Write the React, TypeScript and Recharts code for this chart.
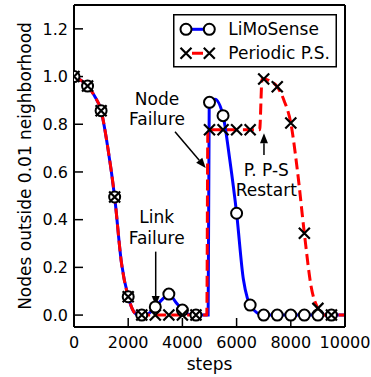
import React from "react"
import {
  ComposedChart,
  Line,
  XAxis,
  YAxis,
  Legend,
  ReferenceLine,
  ReferenceDot,
} from "recharts"

// continuous curves (step, fraction of nodes)
const limoSteps = [0, 250, 500, 750, 1000, 1250, 1500, 1750, 2000, 2200, 2400, 2650, 3000, 3250, 3500, 3750, 4000, 4250, 4500, 4950, 4990, 5200, 5500, 5750, 6000, 6250, 6400, 6500, 6750, 7000, 8000, 9000, 10000]
const limoValues = [1.0, 0.985, 0.96, 0.92, 0.857, 0.7, 0.495, 0.22, 0.077, 0.015, 0, 0, 0.034, 0.065, 0.088, 0.055, 0.021, 0.003, 0, 0, 0.892, 0.905, 0.836, 0.65, 0.427, 0.15, 0.07, 0.042, 0.01, 0, 0, 0, 0]

const periodicSteps = [0, 250, 500, 750, 1000, 1250, 1500, 1750, 2000, 2200, 2350, 4900, 4940, 6850, 6940, 7000, 7250, 7500, 7750, 8000, 8250, 8500, 8750, 9000, 9200, 9500, 10000]
const periodicValues = [1.0, 0.985, 0.96, 0.92, 0.857, 0.7, 0.495, 0.22, 0.077, 0.015, 0, 0, 0.777, 0.777, 0.99, 0.99, 0.98, 0.957, 0.9, 0.805, 0.6, 0.343, 0.12, 0.028, 0, 0, 0]

// sampled markers every 500 steps
const markSteps = [0, 500, 1000, 1500, 2000, 2500, 3000, 3500, 4000, 4500, 5000, 5500, 6000, 6500, 7000, 7500, 8000, 8500, 9000, 9500]
const limoMarks = [1.0, 0.96, 0.857, 0.495, 0.077, 0, 0.034, 0.088, 0.021, 0, 0.892, 0.836, 0.427, 0.042, 0, 0, 0, 0, 0, 0]
const periodicMarks = [1.0, 0.96, 0.857, 0.495, 0.077, 0, 0, 0, 0, 0, 0.777, 0.777, 0.777, 0.777, 0.99, 0.957, 0.805, 0.343, 0.028, 0]

const xTicks = [0, 2000, 4000, 6000, 8000, 10000]
const yTicks = [0, 0.2, 0.4, 0.6, 0.8, 1.0, 1.2]

const zip = (steps: number[], values: number[]) =>
  steps.map((step, i) => ({ step, v: values[i] }))

const limoLine = zip(limoSteps, limoValues)
const periodicLine = zip(periodicSteps, periodicValues)
const limoDots = zip(markSteps, limoMarks)
const periodicDots = zip(markSteps, periodicMarks)

const FONT = "DejaVu Sans"
const BLUE = "#0000ff"
const RED = "#ff0000"

function CircleMark(props: any) {
  const { cx, cy, index } = props
  if (cx == null || cy == null) return <g key={index} />
  return <circle key={index} cx={cx} cy={cy} r={5.5} fill="#fff" stroke="#000" strokeWidth={2} />
}

function CrossMark(props: any) {
  const { cx, cy, index } = props
  if (cx == null || cy == null) return <g key={index} />
  const s = 5.5
  return (
    <path
      key={index}
      d={`M${cx - s},${cy - s}L${cx + s},${cy + s}M${cx - s},${cy + s}L${cx + s},${cy - s}`}
      stroke="#000"
      strokeWidth={2.2}
      fill="none"
    />
  )
}

function Arrow(props: any) {
  const { x1, y1, x2, y2 } = props
  const dx = x2 - x1
  const dy = y2 - y1
  const len = Math.hypot(dx, dy) || 1
  const ux = dx / len
  const uy = dy / len
  const head = 10
  const half = 4
  const bx = x2 - ux * head
  const by = y2 - uy * head
  return (
    <g>
      <line x1={x1} y1={y1} x2={bx} y2={by} stroke="#000" strokeWidth={1.5} />
      <polygon
        points={`${x2},${y2} ${bx - uy * half},${by + ux * half} ${bx + uy * half},${by - ux * half}`}
        fill="#000"
      />
    </g>
  )
}

const note = (lines: string[], gap: number) => (p: any) => (
  <text x={p.cx} y={p.cy} textAnchor="middle" fontSize={17} fontFamily={FONT} fill="#000">
    {lines.map((s, i) => (
      <tspan key={i} x={p.cx} dy={i === 0 ? 0 : gap}>
        {s}
      </tspan>
    ))}
  </text>
)

function LegendBox() {
  return (
    <svg width={165} height={54} style={{ display: "block" }}>
      <rect x={0.75} y={0.75} width={162.5} height={52} fill="#fff" stroke="#000" strokeWidth={1.5} />
      <line x1={13} y1={15.3} x2={36.3} y2={15.3} stroke={BLUE} strokeWidth={3} />
      <circle cx={13} cy={15.3} r={5.5} fill="#fff" stroke="#000" strokeWidth={2} />
      <circle cx={36.3} cy={15.3} r={5.5} fill="#fff" stroke="#000" strokeWidth={2} />
      <text x={55.3} y={20.5} fontSize={17} fontFamily={FONT} fill="#000">LiMoSense</text>
      <line x1={13} y1={39.3} x2={36.3} y2={39.3} stroke={RED} strokeWidth={3} strokeDasharray="11 5" strokeDashoffset={-6} />
      {[13, 36.3].map((cx) => (
        <path
          key={cx}
          d={`M${cx - 5.5},${39.3 - 5.5}L${cx + 5.5},${39.3 + 5.5}M${cx - 5.5},${39.3 + 5.5}L${cx + 5.5},${39.3 - 5.5}`}
          stroke="#000"
          strokeWidth={2.2}
        />
      ))}
      <text x={55.3} y={45} fontSize={17} fontFamily={FONT} fill="#000">Periodic P.S.</text>
    </svg>
  )
}

const tickStyle = { fontSize: 16, fill: "#000", fontFamily: FONT }
const lineStyle = { stroke: "#000", strokeWidth: 2 }
const tickLineStyle = { stroke: "#000", strokeWidth: 1.5 }

export default function App() {
  return (
    <div style={{ position: "absolute", left: 0, top: 0, fontFamily: FONT, background: "#fff" }}>
      <ComposedChart width={371} height={377} margin={{ top: 4, right: 25, bottom: 0, left: 0 }}>
        <XAxis
          dataKey="step"
          type="number"
          domain={[0, 10000]}
          ticks={xTicks}
          interval={0}
          allowDataOverflow
          height={50}
          tickSize={-9}
          tickMargin={19}
          tick={tickStyle}
          axisLine={lineStyle}
          tickLine={tickLineStyle}
          label={{
            value: "steps",
            content: (p: any) => {
              const vb = p.viewBox || { x: 74, width: 271, y: 327 }
              return (
                <text x={vb.x + vb.width / 2} y={370} textAnchor="middle" fontSize={17} fontFamily={FONT} fill="#000">
                  steps
                </text>
              )
            },
          }}
        />
        <XAxis
          xAxisId="top"
          orientation="top"
          type="number"
          domain={[0, 10000]}
          ticks={xTicks}
          interval={0}
          allowDataOverflow
          height={1}
          tickSize={-9}
          tick={false}
          axisLine={lineStyle}
          tickLine={tickLineStyle}
        />
        <YAxis
          type="number"
          domain={[-0.05, 1.3]}
          ticks={yTicks}
          interval={0}
          allowDataOverflow
          width={74}
          tickSize={-9}
          tickMargin={15}
          tick={tickStyle}
          tickFormatter={(v: number) => v.toFixed(1)}
          axisLine={lineStyle}
          tickLine={tickLineStyle}
          label={{
            value: "Nodes outside 0.01 neighborhood",
            content: () => (
              <text
                x={31}
                y={166}
                transform="rotate(-90, 31, 166)"
                textAnchor="middle"
                fontSize={17}
                fontFamily={FONT}
                fill="#000"
              >
                Nodes outside 0.01 neighborhood
              </text>
            ),
          }}
        />
        <YAxis
          yAxisId="right"
          orientation="right"
          type="number"
          domain={[-0.05, 1.3]}
          ticks={yTicks}
          interval={0}
          allowDataOverflow
          width={1}
          tickSize={-9}
          tick={false}
          axisLine={lineStyle}
          tickLine={tickLineStyle}
        />

        <Line
          data={limoLine}
          dataKey="v"
          type="monotone"
          stroke={BLUE}
          strokeWidth={3}
          dot={false}
          activeDot={false}
          legendType="none"
          isAnimationActive={false}
        />
        <Line
          data={limoDots}
          dataKey="v"
          stroke="none"
          dot={CircleMark}
          activeDot={false}
          legendType="none"
          isAnimationActive={false}
        />
        <Line
          data={periodicLine}
          dataKey="v"
          type="monotone"
          stroke={RED}
          strokeWidth={3}
          strokeDasharray="11 5"
          dot={false}
          activeDot={false}
          legendType="none"
          isAnimationActive={false}
        />
        <Line
          data={periodicDots}
          dataKey="v"
          stroke="none"
          dot={CrossMark}
          activeDot={false}
          legendType="none"
          isAnimationActive={false}
        />

        <ReferenceLine segment={[{ x: 3727, y: 0.769 }, { x: 4860, y: 0.617 }]} shape={Arrow} />
        <ReferenceLine segment={[{ x: 3015, y: 0.266 }, { x: 3015, y: 0.038 }]} shape={Arrow} />
        <ReferenceLine segment={[{ x: 7010, y: 0.671 }, { x: 7010, y: 0.762 }]} shape={Arrow} />

        <ReferenceDot x={3063} y={0.882} r={0} shape={note(["Node", "Failure"], 20)} />
        <ReferenceDot x={3052} y={0.385} r={0} shape={note(["Link", "Failure"], 21)} />
        <ReferenceDot x={7096} y={0.583} r={0} shape={note(["P. P-S", "Restart"], 20)} />

        <Legend
          layout="vertical"
          align="center"
          verticalAlign="middle"
          wrapperStyle={{ position: "absolute", left: 173, top: 14, width: 165, height: 54 }}
          content={() => <LegendBox />}
        />
      </ComposedChart>
    </div>
  )
}
